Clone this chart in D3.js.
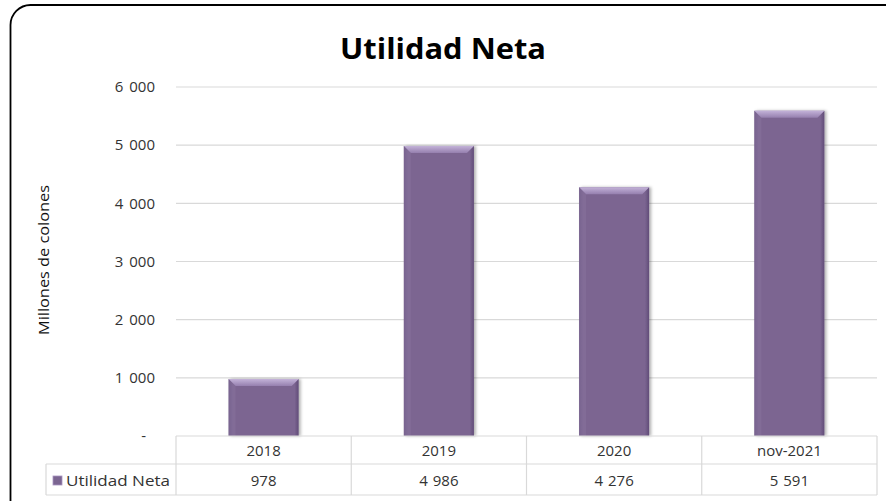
<!DOCTYPE html>
<html><head><meta charset="utf-8">
<script src="https://cdn.jsdelivr.net/npm/d3@7"></script>
<style>body{margin:0;background:#fff}</style>
</head><body>
<svg id="c" width="886" height="501"></svg>
<script>
const categories = ["2018", "2019", "2020", "nov-2021"];
const values = [978, 4986, 4276, 5591];
const valueLabels = ["978", "4 986", "4 276", "5 591"];
const yTicks = [0, 1000, 2000, 3000, 4000, 5000, 6000];
const seriesName = "Utilidad Neta";
const titleText = "Utilidad Neta";
const yTitle = "Millones de colones";

(function () {
const svg = d3.select("#c");
const font = "'Open Sans', 'Noto Sans', sans-serif";
const pLeft = 176, pRight = 877, pTop = 87, pBottom = 436;
const row1 = 464, row2 = 495, tableLeft = 46;
const fs = 15;

// frame
svg.append("rect").attr("x", 10.5).attr("y", 5).attr("width", 900).attr("height", 520)
  .attr("rx", 20).attr("fill", "none").attr("stroke", "#000").attr("stroke-width", 1.8);

svg.append("text").attr("x", 443).attr("y", 59).attr("text-anchor", "middle")
  .attr("font-family", font).attr("font-weight", "bold").attr("font-size", 28)
  .attr("textLength", 206).attr("lengthAdjust", "spacingAndGlyphs")
  .text(titleText);

const x = d3.scaleBand().domain(categories).range([pLeft, pRight]).paddingInner(0).paddingOuter(0);
const y = d3.scaleLinear().domain([0, 6000]).range([pBottom, pTop]);

// gridlines
svg.append("g").selectAll("line").data(yTicks.filter(d => d > 0)).join("line")
  .attr("x1", pLeft).attr("x2", pRight).attr("y1", d => y(d)).attr("y2", d => y(d))
  .attr("stroke", "#d9d9d9").attr("stroke-width", 1.2);

// y tick labels
svg.append("g").selectAll("text").data(yTicks).join("text")
  .attr("x", d => d === 0 ? 146 : 155).attr("y", d => y(d)).attr("dy", "0.35em")
  .attr("text-anchor", "end").attr("font-family", font).attr("font-size", fs).attr("fill", "#333")
  .attr("word-spacing", 2)
  .text(d => d === 0 ? "-" : d3.format(",")(d).replace(/,/g, " "));

svg.append("text").attr("transform", "translate(49,260) rotate(-90)").attr("text-anchor", "middle")
  .attr("font-family", font).attr("font-size", 14).attr("fill", "#111")
  .attr("textLength", 150).attr("lengthAdjust", "spacingAndGlyphs").text(yTitle);

// gradients
const defs = svg.append("defs");
const g1 = defs.append("linearGradient").attr("id", "barg").attr("x1", 0).attr("x2", 1).attr("y1", 0).attr("y2", 0);
g1.append("stop").attr("offset", "0").attr("stop-color", "#6a5482");
g1.append("stop").attr("offset", "0.06").attr("stop-color", "#7b6591");
g1.append("stop").attr("offset", "0.94").attr("stop-color", "#7b6591");
g1.append("stop").attr("offset", "1").attr("stop-color", "#614c78");
const g2 = defs.append("linearGradient").attr("id", "topg").attr("x1", 0).attr("x2", 0).attr("y1", 0).attr("y2", 1);
g2.append("stop").attr("offset", "0").attr("stop-color", "#c3b2d8");
g2.append("stop").attr("offset", "1").attr("stop-color", "#957fae");
const flt = defs.append("filter").attr("id", "sh").attr("x", "-20%").attr("y", "-10%").attr("width", "140%").attr("height", "120%");
flt.append("feDropShadow").attr("dx", 2).attr("dy", 0).attr("stdDeviation", 1.5).attr("flood-color", "#000").attr("flood-opacity", 0.3);

const bw = x.bandwidth() * 0.4;
const bars = svg.append("g").selectAll("g").data(categories).join("g");
bars.append("rect")
  .attr("x", (d) => x(d) + (x.bandwidth() - bw) / 2)
  .attr("y", (d, i) => y(values[i]))
  .attr("width", bw).attr("height", (d, i) => pBottom - y(values[i]))
  .attr("fill", "url(#barg)").attr("filter", "url(#sh)");
const bev = 7;
bars.append("path")
  .attr("d", (d, i) => {
    const x0 = x(d) + (x.bandwidth() - bw) / 2, x1 = x0 + bw, yt = y(values[i]);
    return `M${x0},${yt}L${x1},${yt}L${x1 - bev},${yt + bev}L${x0 + bev},${yt + bev}Z`;
  }).attr("fill", "url(#topg)");
bars.append("path")
  .attr("d", (d, i) => {
    const x0 = x(d) + (x.bandwidth() - bw) / 2, yt = y(values[i]);
    return `M${x0},${yt}L${x0 + bev},${yt + bev}L${x0 + bev},${pBottom}L${x0},${pBottom}Z`;
  }).attr("fill", "#8a75a0").attr("opacity", 0.45);

// data table
const tg = svg.append("g").attr("stroke", "#d9d9d9").attr("stroke-width", 1.2);
tg.append("line").attr("x1", pLeft).attr("x2", pRight).attr("y1", pBottom).attr("y2", pBottom);
tg.append("line").attr("x1", tableLeft).attr("x2", pRight).attr("y1", row1).attr("y2", row1);
tg.append("line").attr("x1", tableLeft).attr("x2", pRight).attr("y1", row2).attr("y2", row2);
tg.append("line").attr("x1", tableLeft).attr("x2", tableLeft).attr("y1", row1).attr("y2", row2);
tg.selectAll("line.v").data(categories.concat(["end"])).join("line").attr("class", "v")
  .attr("x1", d => d === "end" ? pRight : x(d)).attr("x2", d => d === "end" ? pRight : x(d))
  .attr("y1", pBottom).attr("y2", row2);

svg.append("g").selectAll("text").data(categories).join("text")
  .attr("x", d => x(d) + x.bandwidth() / 2).attr("y", (pBottom + row1) / 2 + 1).attr("dy", "0.35em")
  .attr("text-anchor", "middle").attr("font-family", font).attr("font-size", fs).attr("fill", "#333")
  .text(d => d);
svg.append("g").selectAll("text").data(valueLabels).join("text")
  .attr("x", (d, i) => x(categories[i]) + x.bandwidth() / 2).attr("y", (row1 + row2) / 2 + 1).attr("dy", "0.35em")
  .attr("text-anchor", "middle").attr("font-family", font).attr("font-size", fs).attr("fill", "#333")
  .attr("word-spacing", 1)
  .text(d => d);

svg.append("rect").attr("x", 53).attr("y", 476).attr("width", 9).attr("height", 9).attr("fill", "#7b6591")
  .attr("stroke", "#a995c0").attr("stroke-width", 0.8);
svg.append("text").attr("x", 66).attr("y", (row1 + row2) / 2 + 1).attr("dy", "0.35em")
  .attr("font-family", font).attr("font-size", fs).attr("fill", "#333")
  .attr("textLength", 104).attr("lengthAdjust", "spacingAndGlyphs").text(seriesName);
})();
</script>
</body></html>
